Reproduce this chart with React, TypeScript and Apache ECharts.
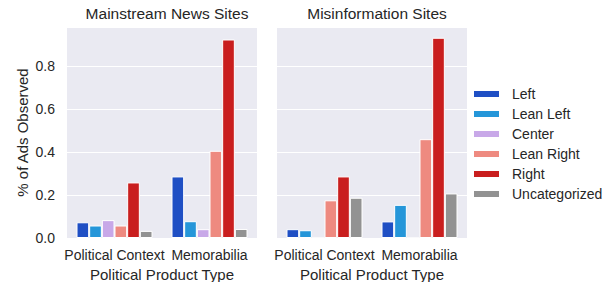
import React, { useEffect, useRef } from "react";
import * as echarts from "echarts";

const categories = ["Political Context", "Memorabilia"];
const leanings = ["Left", "Lean Left", "Center", "Lean Right", "Right", "Uncategorized"];
const colors = ["#1f4fc4", "#2596d9", "#c8a8e8", "#ee8a80", "#c91e1e", "#929292"];
const panelTitles = ["Mainstream News Sites", "Misinformation Sites"];

// values per leaning: [Political Context, Memorabilia]
const mainstreamLeft = [0.073, 0.286];
const mainstreamLeanLeft = [0.058, 0.078];
const mainstreamCenter = [0.083, 0.041];
const mainstreamLeanRight = [0.058, 0.405];
const mainstreamRight = [0.258, 0.922];
const mainstreamUncat = [0.033, 0.042];

const misinfoLeft = [0.041, 0.077];
const misinfoLeanLeft = [0.036, 0.154];
const misinfoCenter = [0, 0];
const misinfoLeanRight = [0.175, 0.459];
const misinfoRight = [0.286, 0.93];
const misinfoUncat = [0.187, 0.207];

const mainstream = [mainstreamLeft, mainstreamLeanLeft, mainstreamCenter, mainstreamLeanRight, mainstreamRight, mainstreamUncat];
const misinfo = [misinfoLeft, misinfoLeanLeft, misinfoCenter, misinfoLeanRight, misinfoRight, misinfoUncat];

const TEXT = "#262626";
const FONT = "Liberation Sans, Arial, sans-serif";

export default function App() {
  const ref = useRef<HTMLDivElement>(null);
  useEffect(() => {
    if (!ref.current) return;
    const chart = echarts.init(ref.current, null, { renderer: "svg" });
    const grids = [
      { left: 67, top: 27, width: 190, height: 211, show: true, backgroundColor: "#eaeaf2", borderWidth: 0, outerBoundsMode: "none", containLabel: false },
      { left: 277, top: 27, width: 190, height: 211, show: true, backgroundColor: "#eaeaf2", borderWidth: 0, outerBoundsMode: "none", containLabel: false },
    ];
    const xAxes = [0, 1].map((i) => ({
      type: "category",
      gridIndex: i,
      data: categories,
      axisLine: { show: false },
      axisTick: { show: false },
      axisLabel: { color: TEXT, fontSize: 14, fontFamily: FONT, margin: 10, interval: 0 },
      name: "Political Product Type",
      nameLocation: "middle",
      nameGap: 28,
      nameTextStyle: { color: TEXT, fontSize: 15, fontFamily: FONT },
    }));
    const yAxes = [0, 1].map((i) => ({
      type: "value",
      gridIndex: i,
      min: 0,
      max: 0.98,
      interval: 0.2,
      axisLine: { show: false },
      axisTick: { show: false },
      splitLine: { show: true, lineStyle: { color: "#ffffff", width: 1 } },
      axisLabel: {
        show: i === 0,
        color: TEXT,
        fontSize: 14,
        fontFamily: FONT,
        margin: 12,
        showMaxLabel: false,
        formatter: (v: number) => v.toFixed(1),
      },
      name: i === 0 ? "% of Ads Observed" : "",
      nameLocation: "middle",
      nameGap: 37,
      nameTextStyle: { color: TEXT, fontSize: 15, fontFamily: FONT },
    }));
    const series: any[] = [];
    [mainstream, misinfo].forEach((panel, p) => {
      panel.forEach((vals, k) => {
        series.push({
          type: "bar",
          name: leanings[k],
          xAxisIndex: p,
          yAxisIndex: p,
          data: vals,
          barGap: "0%",
          barCategoryGap: "20%",
          itemStyle: { color: colors[k], borderColor: "#ffffff", borderWidth: 1 },
        });
      });
    });
    chart.setOption({
      animation: false,
      color: colors,
      title: [0, 1].map((i) => ({
        text: panelTitles[i],
        left: 67 + 210 * i + 95,
        top: 0,
        textAlign: "center",
        textStyle: { color: TEXT, fontSize: 15.5, fontWeight: "normal", fontFamily: FONT },
      })),
      legend: {
        data: leanings,
        orient: "vertical",
        left: 467,
        top: 82,
        itemWidth: 27,
        itemHeight: 8,
        itemGap: 6,
        icon: "rect",
        textStyle: { color: TEXT, fontSize: 14, fontFamily: FONT, padding: [0, 0, 0, 7] },
      },
      grid: grids,
      xAxis: xAxes,
      yAxis: yAxes,
      series,
    });
    return () => chart.dispose();
  }, []);
  return <div ref={ref} style={{ width: 612, height: 282, position: "absolute", left: 0, top: 0 }} />;
}
